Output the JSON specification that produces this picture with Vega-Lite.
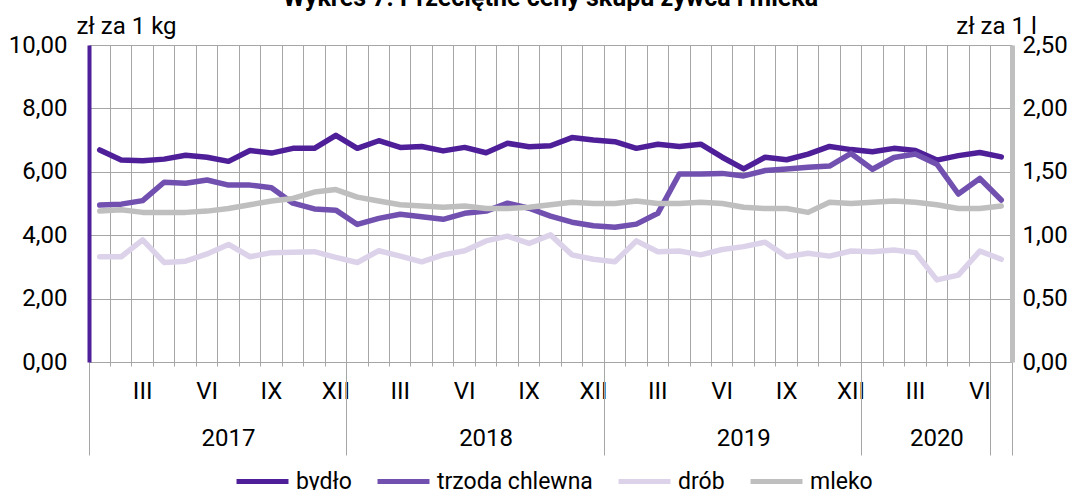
{
  "$schema": "https://vega.github.io/schema/vega-lite/v6.json",
  "width": 923,
  "height": 317,
  "autosize": {"type": "none"},
  "padding": {"left": 89, "top": 45, "right": 70, "bottom": 128},
  "title": {"text": "Wykres 7. Przeciętne ceny skupu żywca i mleka", "anchor": "middle", "baseline": "alphabetic", "offset": 4, "dy": 21, "fontSize": 25, "fontWeight": "bold", "font": "Roboto", "color": "#000000"},
  "config": {
    "font": "Roboto",
    "view": {"stroke": null},
    "axis": {"labelFontSize": 24, "labelColor": "#000000", "titleFontSize": 24, "titleColor": "#000000", "titleFontWeight": "normal", "labelFont": "Roboto", "titleFont": "Roboto"}
  },
  "data": {"values": [
    {"miesiac": "2017-01", "bydło": 6.69, "trzoda chlewna": 4.95, "drób": 3.32, "mleko": 1.19},
    {"miesiac": "2017-02", "bydło": 6.37, "trzoda chlewna": 4.98, "drób": 3.32, "mleko": 1.20},
    {"miesiac": "2017-03", "bydło": 6.35, "trzoda chlewna": 5.09, "drób": 3.85, "mleko": 1.18},
    {"miesiac": "2017-04", "bydło": 6.40, "trzoda chlewna": 5.67, "drób": 3.14, "mleko": 1.18},
    {"miesiac": "2017-05", "bydło": 6.52, "trzoda chlewna": 5.64, "drób": 3.18, "mleko": 1.18},
    {"miesiac": "2017-06", "bydło": 6.46, "trzoda chlewna": 5.74, "drób": 3.41, "mleko": 1.19},
    {"miesiac": "2017-07", "bydło": 6.33, "trzoda chlewna": 5.58, "drób": 3.71, "mleko": 1.21},
    {"miesiac": "2017-08", "bydło": 6.67, "trzoda chlewna": 5.58, "drób": 3.32, "mleko": 1.24},
    {"miesiac": "2017-09", "bydło": 6.59, "trzoda chlewna": 5.50, "drób": 3.45, "mleko": 1.27},
    {"miesiac": "2017-10", "bydło": 6.74, "trzoda chlewna": 5.01, "drób": 3.46, "mleko": 1.29},
    {"miesiac": "2017-11", "bydło": 6.74, "trzoda chlewna": 4.83, "drób": 3.48, "mleko": 1.34},
    {"miesiac": "2017-12", "bydło": 7.15, "trzoda chlewna": 4.79, "drób": 3.30, "mleko": 1.36},
    {"miesiac": "2018-01", "bydło": 6.74, "trzoda chlewna": 4.34, "drób": 3.14, "mleko": 1.30},
    {"miesiac": "2018-02", "bydło": 6.98, "trzoda chlewna": 4.53, "drób": 3.51, "mleko": 1.27},
    {"miesiac": "2018-03", "bydło": 6.77, "trzoda chlewna": 4.66, "drób": 3.34, "mleko": 1.24},
    {"miesiac": "2018-04", "bydło": 6.80, "trzoda chlewna": 4.58, "drób": 3.16, "mleko": 1.23},
    {"miesiac": "2018-05", "bydło": 6.66, "trzoda chlewna": 4.50, "drób": 3.38, "mleko": 1.22},
    {"miesiac": "2018-06", "bydło": 6.77, "trzoda chlewna": 4.69, "drób": 3.51, "mleko": 1.23},
    {"miesiac": "2018-07", "bydło": 6.60, "trzoda chlewna": 4.76, "drób": 3.82, "mleko": 1.21},
    {"miesiac": "2018-08", "bydło": 6.90, "trzoda chlewna": 5.01, "drób": 3.97, "mleko": 1.21},
    {"miesiac": "2018-09", "bydło": 6.79, "trzoda chlewna": 4.85, "drób": 3.74, "mleko": 1.22},
    {"miesiac": "2018-10", "bydło": 6.82, "trzoda chlewna": 4.60, "drób": 4.01, "mleko": 1.24},
    {"miesiac": "2018-11", "bydło": 7.08, "trzoda chlewna": 4.41, "drób": 3.38, "mleko": 1.26},
    {"miesiac": "2018-12", "bydło": 7.00, "trzoda chlewna": 4.30, "drób": 3.24, "mleko": 1.25},
    {"miesiac": "2019-01", "bydło": 6.95, "trzoda chlewna": 4.25, "drób": 3.16, "mleko": 1.25},
    {"miesiac": "2019-02", "bydło": 6.74, "trzoda chlewna": 4.35, "drób": 3.82, "mleko": 1.27},
    {"miesiac": "2019-03", "bydło": 6.87, "trzoda chlewna": 4.69, "drób": 3.48, "mleko": 1.25},
    {"miesiac": "2019-04", "bydło": 6.80, "trzoda chlewna": 5.93, "drób": 3.50, "mleko": 1.25},
    {"miesiac": "2019-05", "bydło": 6.87, "trzoda chlewna": 5.93, "drób": 3.38, "mleko": 1.26},
    {"miesiac": "2019-06", "bydło": 6.46, "trzoda chlewna": 5.95, "drób": 3.55, "mleko": 1.25},
    {"miesiac": "2019-07", "bydło": 6.09, "trzoda chlewna": 5.87, "drób": 3.64, "mleko": 1.22},
    {"miesiac": "2019-08", "bydło": 6.46, "trzoda chlewna": 6.04, "drób": 3.78, "mleko": 1.21},
    {"miesiac": "2019-09", "bydło": 6.38, "trzoda chlewna": 6.09, "drób": 3.32, "mleko": 1.21},
    {"miesiac": "2019-10", "bydło": 6.56, "trzoda chlewna": 6.14, "drób": 3.43, "mleko": 1.18},
    {"miesiac": "2019-11", "bydło": 6.80, "trzoda chlewna": 6.18, "drób": 3.34, "mleko": 1.26},
    {"miesiac": "2019-12", "bydło": 6.70, "trzoda chlewna": 6.58, "drób": 3.50, "mleko": 1.25},
    {"miesiac": "2020-01", "bydło": 6.63, "trzoda chlewna": 6.08, "drób": 3.48, "mleko": 1.26},
    {"miesiac": "2020-02", "bydło": 6.74, "trzoda chlewna": 6.45, "drób": 3.53, "mleko": 1.27},
    {"miesiac": "2020-03", "bydło": 6.67, "trzoda chlewna": 6.56, "drób": 3.45, "mleko": 1.26},
    {"miesiac": "2020-04", "bydło": 6.37, "trzoda chlewna": 6.24, "drób": 2.59, "mleko": 1.24},
    {"miesiac": "2020-05", "bydło": 6.51, "trzoda chlewna": 5.30, "drób": 2.74, "mleko": 1.21},
    {"miesiac": "2020-06", "bydło": 6.61, "trzoda chlewna": 5.79, "drób": 3.50, "mleko": 1.21},
    {"miesiac": "2020-07", "bydło": 6.47, "trzoda chlewna": 5.11, "drób": 3.24, "mleko": 1.23}
  ]},
  "layer": [
    {
      "transform": [{"fold": ["bydło", "trzoda chlewna", "drób"], "as": ["seria", "wartosc"]}],
      "mark": {"type": "line", "strokeWidth": 5.5, "strokeJoin": "round", "strokeCap": "round"},
      "encoding": {
        "x": {"field": "miesiac", "type": "ordinal", "scale": {"type": "band", "paddingInner": 0, "paddingOuter": 0},
              "axis": {"orient": "bottom", "title": null, "labels": false, "grid": true, "gridColor": "#A6A6A6", "gridWidth": 1, "bandPosition": 0, "ticks": true, "tickSize": 4, "tickColor": "#A6A6A6", "domain": true, "domainColor": "#A6A6A6", "domainWidth": 1}},
        "y": {"field": "wartosc", "type": "quantitative", "scale": {"domain": [0, 10], "nice": false},
              "axis": {"values": [0, 2, 4, 6, 8, 10], "grid": true, "gridColor": "#A6A6A6", "gridWidth": 1, "ticks": false, "tickSize": 0, "labelPadding": 22, "domainColor": "#4E1F98", "domainWidth": 4, "labelExpr": "replace(format(datum.value, '.2f'), '.', ',')", "title": "zł za 1 kg", "titleAngle": 0, "titleAlign": "center", "titleBaseline": "alphabetic", "titleX": 37, "titleY": -12}},
        "color": {"field": "seria", "type": "nominal",
                  "scale": {"domain": ["bydło", "trzoda chlewna", "drób", "mleko"], "range": ["#4E1F98", "#7150B0", "#DCD3EA", "#BFBFBF"]},
                  "legend": {"orient": "none", "legendX": 145, "legendY": 408, "direction": "horizontal", "title": null, "symbolType": "stroke", "symbolStrokeWidth": 5, "symbolSize": 2700, "labelFontSize": 23, "labelColor": "#000000", "labelFont": "Roboto", "columnPadding": 15, "labelOffset": 5, "labelLimit": 400, "gridAlign": "none"}}
      }
    },
    {
      "transform": [{"fold": ["mleko"], "as": ["seria", "wartosc"]}],
      "mark": {"type": "line", "strokeWidth": 5.5, "strokeJoin": "round", "strokeCap": "round"},
      "encoding": {
        "x": {"field": "miesiac", "type": "ordinal", "scale": {"type": "band", "paddingInner": 0, "paddingOuter": 0}, "axis": null},
        "y": {"field": "wartosc", "type": "quantitative", "scale": {"domain": [0, 2.5], "nice": false},
              "axis": {"orient": "right", "values": [0, 0.5, 1, 1.5, 2, 2.5], "grid": false, "ticks": false, "tickSize": 0, "labelPadding": 10, "domainColor": "#BFBFBF", "domainWidth": 5, "labelExpr": "replace(format(datum.value, '.2f'), '.', ',')", "title": "zł za 1 l", "titleAngle": 0, "titleAlign": "center", "titleBaseline": "alphabetic", "titleX": -16, "titleY": -12}},
        "color": {"field": "seria", "type": "nominal", "scale": {"domain": ["bydło", "trzoda chlewna", "drób", "mleko"], "range": ["#4E1F98", "#7150B0", "#DCD3EA", "#BFBFBF"]}}
      }
    },
    {
      "mark": {"type": "rule", "opacity": 0},
      "encoding": {
        "x": {"field": "miesiac", "type": "ordinal", "scale": {"type": "band", "paddingInner": 0, "paddingOuter": 0},
              "axis": {"orient": "bottom", "title": null, "values": ["2017-03", "2017-06", "2017-09", "2017-12", "2018-03", "2018-06", "2018-09", "2018-12", "2019-03", "2019-06", "2019-09", "2019-12", "2020-03", "2020-06"], "bandPosition": 0.5, "labelExpr": "slice(datum.value, 5) == '03' ? 'III' : slice(datum.value, 5) == '06' ? 'VI' : slice(datum.value, 5) == '09' ? 'IX' : 'XII'", "labelAngle": 0, "labelPadding": 17, "ticks": false, "tickSize": 0, "domain": false, "grid": false, "labelOverlap": false, "labelFlush": false}}
      }
    },
    {
      "mark": {"type": "rule", "opacity": 0},
      "encoding": {
        "x": {"field": "miesiac", "type": "ordinal", "scale": {"type": "band", "paddingInner": 0, "paddingOuter": 0},
              "axis": {"orient": "bottom", "title": null, "values": ["2017-07", "2018-07", "2019-07", "2020-04"], "bandPosition": 0, "labelExpr": "slice(datum.value, 0, 4)", "labelAngle": 0, "labelPadding": 64, "ticks": false, "tickSize": 0, "domain": false, "grid": false, "labelOverlap": false, "labelFlush": false}}
      }
    },
    {
      "mark": {"type": "rule", "opacity": 0},
      "encoding": {
        "x": {"field": "miesiac", "type": "ordinal", "scale": {"type": "band", "paddingInner": 0, "paddingOuter": 0},
              "axis": {"orient": "bottom", "title": null, "values": ["2017-01", "2018-01", "2019-01", "2020-01", "2020-07"], "bandPosition": 0, "labels": false, "ticks": true, "tickSize": 93, "tickColor": "#A6A6A6", "tickWidth": 1, "domain": false, "grid": false}}
      }
    },
    {
      "mark": {"type": "rule", "opacity": 0},
      "encoding": {
        "x": {"field": "miesiac", "type": "ordinal", "scale": {"type": "band", "paddingInner": 0, "paddingOuter": 0},
              "axis": {"orient": "bottom", "title": null, "values": ["2020-07"], "bandPosition": 1, "labels": false, "ticks": true, "tickSize": 93, "tickColor": "#A6A6A6", "tickWidth": 1, "domain": false, "grid": false}}
      }
    }
  ],
  "resolve": {"scale": {"y": "independent"}, "axis": {"x": "independent"}}
}
